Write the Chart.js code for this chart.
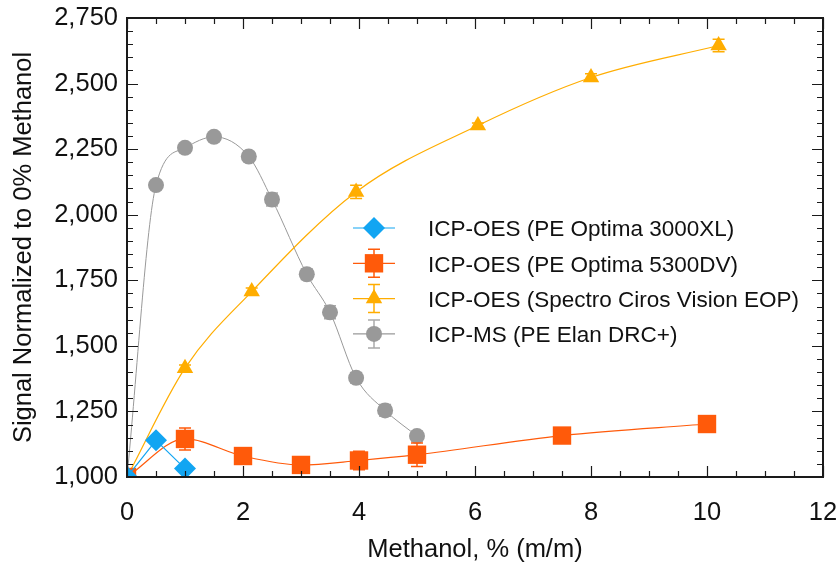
<!DOCTYPE html>
<html>
<head>
<meta charset="utf-8">
<script src="https://cdn.jsdelivr.net/npm/chart.js@4/dist/chart.umd.min.js"></script>
<style>
  html, body { margin: 0; padding: 0; background: #fff; }
  #wrap { width: 836px; height: 569px; }
</style>
</head>
<body>
<div id="wrap"><canvas id="c" width="836" height="569"></canvas></div>
<script>
// Methanol content, % (m/m), and normalized signal for each instrument
const xOptima3000 = [0, 0.5, 1];
const yOptima3000 = [1000, 1140, 1032];

const xOptima5300 = [0, 1, 2, 3, 4, 5, 7.5, 10];
const yOptima5300 = [1000, 1145, 1080, 1046, 1063, 1085, 1158, 1202];
const eOptima5300 = [0, 42, 10, 20, 35, 45, 22, 15];

const xCiros = [0, 1, 2.15, 3.95, 6.05, 8, 10.2];
const yCiros = [1000, 1415, 1707, 2087, 2340, 2523, 2645];
const eCiros = [0, 12, 14, 25, 10, 14, 24];

const xElan = [0, 0.5, 1, 1.5, 2.1, 2.5, 3.1, 3.5, 3.95, 4.45, 5];
const yElan = [1000, 2113, 2255, 2297, 2222, 2058, 1773, 1628, 1378, 1254, 1156];
const eElan = [0, 10, 12, 10, 12, 25, 20, 25, 20, 22, 18];

const seriesLabels = [
  'ICP-OES (PE Optima 3000XL)',
  'ICP-OES (PE Optima 5300DV)',
  'ICP-OES (Spectro Ciros Vision EOP)',
  'ICP-MS (PE Elan DRC+)'
];

const xTickMax = 12, xMajor = 2, xMinor = 0.5;
const yTickMin = 1000, yTickMax = 2750, yMajor = 250, yMinor = 50;

const FONT = 'Liberation Sans';
const AXIS_SIZE = 25.5;

function pts(xs, ys) { return xs.map((x, i) => ({ x, y: ys[i] })); }

// Vertical error bars with caps, drawn under each dataset's markers
const errorBars = {
  id: 'errorBars',
  beforeDatasetDraw(chart, args) {
    const ds = chart.data.datasets[args.index];
    if (!ds.errors) return;
    const { ctx, chartArea: a, scales: { x, y } } = chart;
    ctx.save();
    ctx.beginPath();
    ctx.rect(a.left, a.top, a.right - a.left, a.bottom - a.top);
    ctx.clip();
    ctx.strokeStyle = ds.errorColor || ds.borderColor;
    ctx.lineWidth = 1.5;
    ds.data.forEach((p, i) => {
      const e = ds.errors[i];
      if (!e) return;
      const px = x.getPixelForValue(p.x);
      const top = y.getPixelForValue(p.y + e);
      const bot = y.getPixelForValue(p.y - e);
      ctx.beginPath();
      ctx.moveTo(px, top); ctx.lineTo(px, bot);
      ctx.moveTo(px - 6, top); ctx.lineTo(px + 6, top);
      ctx.moveTo(px - 6, bot); ctx.lineTo(px + 6, bot);
      ctx.stroke();
    });
    ctx.restore();
  }
};

// Box frame with inward major/minor ticks on all four sides
const frameTicks = {
  id: 'frameTicks',
  afterDraw(chart) {
    const { ctx, chartArea: a, scales: { x, y } } = chart;
    ctx.save();
    ctx.strokeStyle = '#1a1a1a';
    ctx.lineWidth = 1.2;
    const eps = 1e-6;
    ctx.beginPath();
    for (let v = 0; v <= xTickMax + eps; v += xMinor) {
      const px = Math.round(x.getPixelForValue(v)) + 0.5;
      const major = Math.abs(v / xMajor - Math.round(v / xMajor)) < eps;
      const len = major ? 11 : 6;
      ctx.moveTo(px, a.bottom); ctx.lineTo(px, a.bottom - len);
      ctx.moveTo(px, a.top); ctx.lineTo(px, a.top + len);
    }
    for (let v = yTickMin; v <= yTickMax + eps; v += yMinor) {
      const py = Math.round(y.getPixelForValue(v)) + 0.5;
      const major = (v - yTickMin) % yMajor === 0;
      const len = major ? 11 : 6;
      ctx.moveTo(a.left, py); ctx.lineTo(a.left + len, py);
      ctx.moveTo(a.right, py); ctx.lineTo(a.right - len, py);
    }
    ctx.stroke();
    ctx.lineWidth = 2;
    ctx.strokeRect(a.left, a.top, a.right - a.left, a.bottom - a.top);
    ctx.restore();
  }
};

// Legend inside the plot: line sample, error bar, marker, label
const boxLegend = {
  id: 'boxLegend',
  afterDraw(chart, args, opts) {
    const { ctx } = chart;
    ctx.save();
    chart.data.datasets.forEach((ds, i) => {
      const cy = opts.top + i * opts.rowGap;
      const cx = opts.left + 21;
      ctx.strokeStyle = ds.borderColor;
      ctx.lineWidth = 1.2;
      ctx.beginPath();
      ctx.moveTo(opts.left, cy); ctx.lineTo(opts.left + 42, cy);
      ctx.stroke();
      if (ds.errors) {
        ctx.strokeStyle = ds.errorColor || ds.borderColor;
        ctx.lineWidth = 1.5;
        ctx.beginPath();
        ctx.moveTo(cx, cy - 14); ctx.lineTo(cx, cy + 14);
        ctx.moveTo(cx - 6, cy - 14); ctx.lineTo(cx + 6, cy - 14);
        ctx.moveTo(cx - 6, cy + 14); ctx.lineTo(cx + 6, cy + 14);
        ctx.stroke();
      }
      ctx.fillStyle = ds.pointBackgroundColor;
      ctx.strokeStyle = ds.pointBackgroundColor;
      Chart.helpers.drawPoint(ctx, {
        pointStyle: ds.pointStyle, radius: ds.pointRadius, rotation: 0, borderWidth: 0
      }, cx, cy);
      ctx.fillStyle = '#111';
      ctx.font = opts.fontSize + 'px "' + FONT + '"';
      ctx.textBaseline = 'middle';
      ctx.textAlign = 'left';
      ctx.fillText(ds.label, opts.left + 75, cy + 2);
    });
    ctx.restore();
  }
};

const BLUE = '#12a5f2', RED = '#ff5a0a', AMBER = '#ffad00', GREY = '#999999';

new Chart(document.getElementById('c'), {
  type: 'scatter',
  data: {
    datasets: [
      {
        label: seriesLabels[0], data: pts(xOptima3000, yOptima3000),
        showLine: true, tension: 0, borderColor: BLUE, borderWidth: 1.2,
        pointStyle: 'rectRot', pointRadius: 11, pointBackgroundColor: BLUE, pointBorderWidth: 0,
        clip: 0
      },
      {
        label: seriesLabels[1], data: pts(xOptima5300, yOptima5300), errors: eOptima5300,
        showLine: true, cubicInterpolationMode: 'monotone', borderColor: RED, borderWidth: 1.2,
        pointStyle: 'rect', pointRadius: 13, pointBackgroundColor: RED, pointBorderWidth: 0,
        clip: 0
      },
      {
        label: seriesLabels[2], data: pts(xCiros, yCiros), errors: eCiros,
        showLine: true, cubicInterpolationMode: 'monotone', borderColor: AMBER, borderWidth: 1.2,
        pointStyle: 'triangle', pointRadius: 9.5, pointBackgroundColor: AMBER, pointBorderWidth: 0,
        clip: 0
      },
      {
        label: seriesLabels[3], data: pts(xElan, yElan), errors: eElan, errorColor: '#aaaaaa',
        showLine: true, cubicInterpolationMode: 'monotone', borderColor: GREY, borderWidth: 1,
        pointStyle: 'circle', pointRadius: 8, pointBackgroundColor: GREY, pointBorderWidth: 0,
        clip: 0
      }
    ]
  },
  options: {
    responsive: false,
    animation: false,
    events: [],
    layout: { padding: { left: 0, right: 9, top: 18, bottom: 0 } },
    plugins: {
      legend: { display: false },
      tooltip: { enabled: false },
      boxLegend: { left: 353, top: 228, rowGap: 35.3, fontSize: 22.5 }
    },
    scales: {
      x: {
        type: 'linear', min: 0, max: xTickMax,
        border: { display: false },
        grid: { display: false, drawTicks: false },
        ticks: { stepSize: xMajor, padding: 21, color: '#111', font: { family: FONT, size: AXIS_SIZE } },
        title: { display: true, text: 'Methanol, % (m/m)', color: '#111',
                 font: { family: FONT, size: AXIS_SIZE }, padding: { top: 0, bottom: 4 } },
        afterFit(s) { s.height = 92; s.paddingLeft = 0; s.paddingRight = 0; }
      },
      y: {
        type: 'linear', min: yTickMin, max: yTickMax,
        border: { display: false },
        grid: { display: false, drawTicks: false },
        ticks: { stepSize: yMajor, padding: 9, color: '#111', font: { family: FONT, size: AXIS_SIZE },
                 callback: v => v.toLocaleString('en-US') },
        title: { display: true, text: 'Signal Normalized to 0% Methanol', color: '#111',
                 font: { family: FONT, size: AXIS_SIZE }, padding: { top: 9, bottom: 0 } },
        afterFit(s) { s.width = 127; s.paddingTop = 0; s.paddingBottom = 0; }
      }
    }
  },
  plugins: [errorBars, frameTicks, boxLegend]
});
</script>
</body>
</html>
